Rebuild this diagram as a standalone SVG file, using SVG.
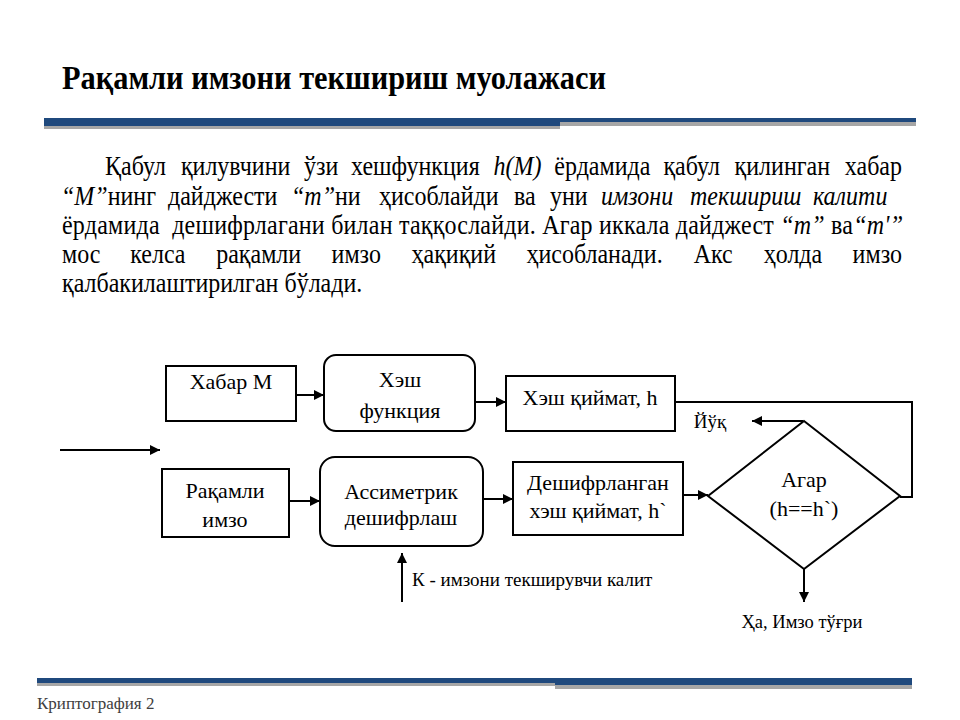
<svg xmlns="http://www.w3.org/2000/svg" width="960" height="720" viewBox="0 0 960 720">
<style>
.t{fill:#000}
.p{font-size:24px}
.i{font-style:italic}
.b{font-size:22px}
.box{fill:#fff;stroke:#000;stroke-width:2}
.ln{fill:none;stroke:#000;stroke-width:2}
</style>
<defs>
<marker id="ah" viewBox="0 0 10 10" refX="10" refY="5" markerWidth="6" markerHeight="5" orient="auto" markerUnits="strokeWidth">
<path d="M0,0 L10,5 L0,10 z" fill="#000"/>
</marker>
</defs>
<rect width="960" height="720" fill="#fff"/>
<g font-family="Liberation Serif, Times New Roman, DejaVu Serif, serif">
<g id="header">
<text class="t" transform="translate(0,89) scale(1,1.08)" x="62" y="0" font-size="31" font-weight="bold" textLength="544" lengthAdjust="spacingAndGlyphs">Рақамли имзони текшириш муолажаси</text>
<rect x="44" y="118" width="516" height="8" fill="#1F497D"/>
<rect x="44" y="126" width="516" height="3" fill="#A6A6A6"/>
<rect x="560" y="118" width="356" height="4" fill="#1F497D"/>
<rect x="560" y="122" width="356" height="4" fill="#A6A6A6"/>
</g>
<g id="paragraph" class="t p">
<text transform="translate(0,175) scale(1,1.15)" y="0"><tspan x="105">Қабул</tspan><tspan x="180.9">қилувчини</tspan><tspan x="304">ўзи</tspan><tspan x="351">хешфункция</tspan><tspan x="493.6" class="i">h(M)</tspan><tspan x="554.3">ёрдамида</tspan><tspan x="663.4">қабул</tspan><tspan x="734.6">қилинган</tspan></text>
<text transform="translate(0,175) scale(1,1.15)" y="0" x="902" text-anchor="end">хабар</text>
<text transform="translate(0,205) scale(1,1.15)" y="0"><tspan x="61" class="i">“M”</tspan><tspan>нинг</tspan><tspan x="168">дайджести</tspan><tspan x="291" class="i">“m”</tspan><tspan>ни</tspan><tspan x="379">ҳисоблайди</tspan><tspan x="514">ва</tspan><tspan x="550">уни</tspan><tspan x="601" class="i">имзони</tspan><tspan x="690" class="i">текшириш</tspan><tspan x="813" class="i">калити</tspan></text>
<text transform="translate(0,234) scale(1,1.15)" y="0" x="62" textLength="841" lengthAdjust="spacing" xml:space="preserve">ёрдамида  дешифрлагани билан таққослайди. Агар иккала дайджест <tspan class="i">“m”</tspan> ва<tspan class="i">“m'”</tspan></text>
<text transform="translate(0,263) scale(1,1.15)" y="0"><tspan x="62">мос</tspan><tspan x="130.2">келса</tspan><tspan x="216.2">рақамли</tspan><tspan x="331.6">имзо</tspan><tspan x="411.5">ҳақиқий</tspan><tspan x="526.4">ҳисобланади.</tspan><tspan x="693.7">Акс</tspan><tspan x="763.7">ҳолда</tspan></text>
<text transform="translate(0,263) scale(1,1.15)" y="0" x="902" text-anchor="end">имзо</text>
<text transform="translate(0,292) scale(1,1.15)" y="0" x="62">қалбакилаштирилган бўлади.</text>
</g>
<g id="connectors">
<path class="ln" d="M296,395 H324" marker-end="url(#ah)"/>
<path class="ln" d="M475,402 H506" marker-end="url(#ah)"/>
<path class="ln" d="M675,402 H912 V497 H900"/>
<path class="ln" d="M803,421 H752" marker-end="url(#ah)"/>
<path class="ln" d="M60,450 H160" marker-end="url(#ah)"/>
<path class="ln" d="M289,501 H320" marker-end="url(#ah)"/>
<path class="ln" d="M483,499 H513" marker-end="url(#ah)"/>
<path class="ln" d="M683,495 H708" marker-end="url(#ah)"/>
<path class="ln" d="M402,602 V553" marker-end="url(#ah)"/>
<path class="ln" d="M804,569 V602" marker-end="url(#ah)"/>
</g>
<g id="n-xabar">
<rect class="box" x="166" y="366" width="130" height="55"/>
<text class="t b" x="231" y="389" text-anchor="middle">Хабар М</text>
</g>
<g id="n-hashfunc">
<rect class="box" x="324" y="355" width="151" height="76" rx="12"/>
<text class="t b" x="400" y="387" text-anchor="middle">Хэш</text>
<text class="t b" x="400" y="418" text-anchor="middle">функция</text>
</g>
<g id="n-hashval">
<rect class="box" x="506" y="376" width="169" height="55"/>
<text class="t b" x="590" y="405" text-anchor="middle">Хэш қиймат, h</text>
</g>
<g id="n-yoq">
<text class="t" x="710" y="428" font-size="19" text-anchor="middle">Йўқ</text>
</g>
<g id="n-raqamli">
<rect class="box" x="162" y="469" width="127" height="68"/>
<text class="t b" x="225" y="498" text-anchor="middle">Рақамли</text>
<text class="t b" x="225" y="527" text-anchor="middle">имзо</text>
</g>
<g id="n-assim">
<rect class="box" x="320" y="457" width="163" height="89" rx="15"/>
<text class="t b" x="401" y="499" text-anchor="middle">Ассиметрик</text>
<text class="t b" x="401" y="525" text-anchor="middle">дешифрлаш</text>
</g>
<g id="n-deshifr">
<rect class="box" x="513" y="462" width="170" height="73"/>
<text class="t b" x="598" y="490" text-anchor="middle">Дешифрланган</text>
<text class="t b" x="598" y="518" text-anchor="middle">хэш қиймат, h`</text>
</g>
<g id="n-agar">
<path class="box" d="M804,421 L900,496 L804,569 L708,496 Z"/>
<text class="t b" x="804" y="487" text-anchor="middle">Агар</text>
<text class="t b" x="804" y="516" text-anchor="middle">(h==h`)</text>
</g>
<g id="n-key">
<text class="t" x="412" y="586" font-size="19">К - имзони текширувчи калит</text>
</g>
<g id="n-ha">
<text class="t" x="802" y="628" font-size="18.5" text-anchor="middle">Ҳа, Имзо тўғри</text>
</g>
<g id="footer">
<rect x="37" y="678" width="518" height="5" fill="#1F497D"/>
<rect x="37" y="683" width="518" height="3" fill="#A6A6A6"/>
<rect x="555" y="678" width="357" height="7" fill="#1F497D"/>
<rect x="555" y="685" width="357" height="4" fill="#A6A6A6"/>
<text x="37" y="709" font-size="17" fill="#404040">Криптография 2</text>
</g>
</g>
</svg>
